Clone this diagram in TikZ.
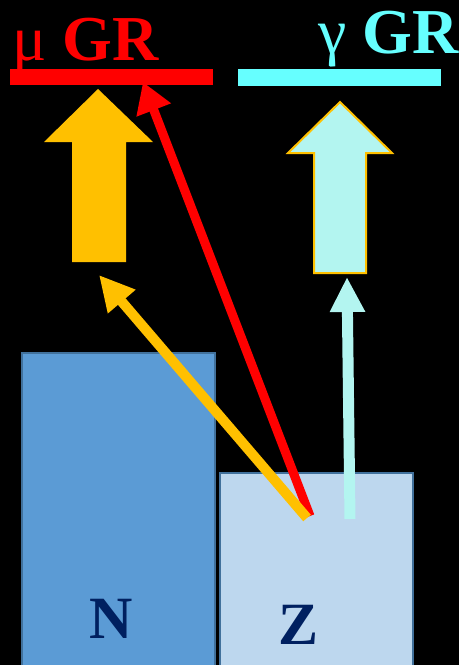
\documentclass[tikz,border=0pt]{standalone}
\usepackage{fontspec}
\setmainfont{Liberation Serif}
\usetikzlibrary{arrows.meta,positioning}
\definecolor{muRed}{HTML}{FF0000}
\definecolor{gamCyan}{HTML}{66FFFF}
\definecolor{paleCyan}{HTML}{B3F5F0}
\definecolor{gold}{HTML}{FFC000}
\definecolor{nBlue}{HTML}{5B9BD5}
\definecolor{zBlue}{HTML}{BDD7EE}
\definecolor{edgeBlue}{HTML}{41719C}
\definecolor{navy}{HTML}{002060}

\begin{document}
\begin{tikzpicture}[
  x=1pt, y=-1pt,
  bar/.style={inner sep=0pt,anchor=north west,minimum height=16pt,minimum width=203pt},
  nucbox/.style={draw=edgeBlue,line width=1.5pt,inner sep=0pt,anchor=north west},
  nuclab/.style={font=\fontsize{60}{60}\selectfont\bfseries,text=navy,anchor=base,inner sep=0pt},
  title/.style={font=\fontsize{64}{64}\selectfont,anchor=base west,inner sep=0pt},
  thinarr/.style={line width=10pt,-{Triangle[length=35pt,width=34pt]}}
]
\fill[black] (0,0) rectangle (459,665);
\clip (0,0) rectangle (459,665);

% level bars and titles
\node[bar,fill=muRed] (mubar) at (10,69) {};
\node[bar,fill=gamCyan,minimum height=17pt] (gambar) at (238,69) {};
\node[title,text=muRed] (mutxt) at (12,60) {μ \textbf{GR}};
\node[title,text=gamCyan] (gamtxt) at (318,53) {γ \textbf{GR}};

% big arrows
\draw[fill=gold,draw=none] (98,89) -- (153,142) -- (126,142) -- (126,262)
  -- (72,262) -- (72,142) -- (44,142) -- cycle;
\draw[fill=paleCyan,draw=gold,line width=2pt] (340,102) -- (392,153) -- (366,153)
  -- (366,273) -- (314,273) -- (314,153) -- (288,153) -- cycle;

% nuclei
\node[nucbox,fill=nBlue,minimum width=193pt,minimum height=320pt] (nbox) at (21,352) {};
\node[nucbox,fill=zBlue,minimum width=193pt,minimum height=200pt] (zbox) at (219,472) {};
\node[nuclab] (nlab) at (111,638) {N};
\node[nuclab] (zlab) at (299,644) {Z};

% transitions
\coordinate (musrc) at (310,516);
\coordinate (mutip) at (143,82);
\coordinate (ausrc) at (307,518);
\coordinate (autip) at (99,275);
\coordinate (gamsrc) at (350,519);
\coordinate (gamtip) at (347,277);
\draw[thinarr,muRed,line width=9pt,-{Triangle[length=30pt,width=35pt]}] (musrc) -- (mutip);
\draw[thinarr,gold] (ausrc) -- (autip);
\draw[thinarr,paleCyan,line width=11pt,-{Triangle[length=35pt,width=33pt]}] (gamsrc) -- (gamtip);
\end{tikzpicture}
\end{document}
